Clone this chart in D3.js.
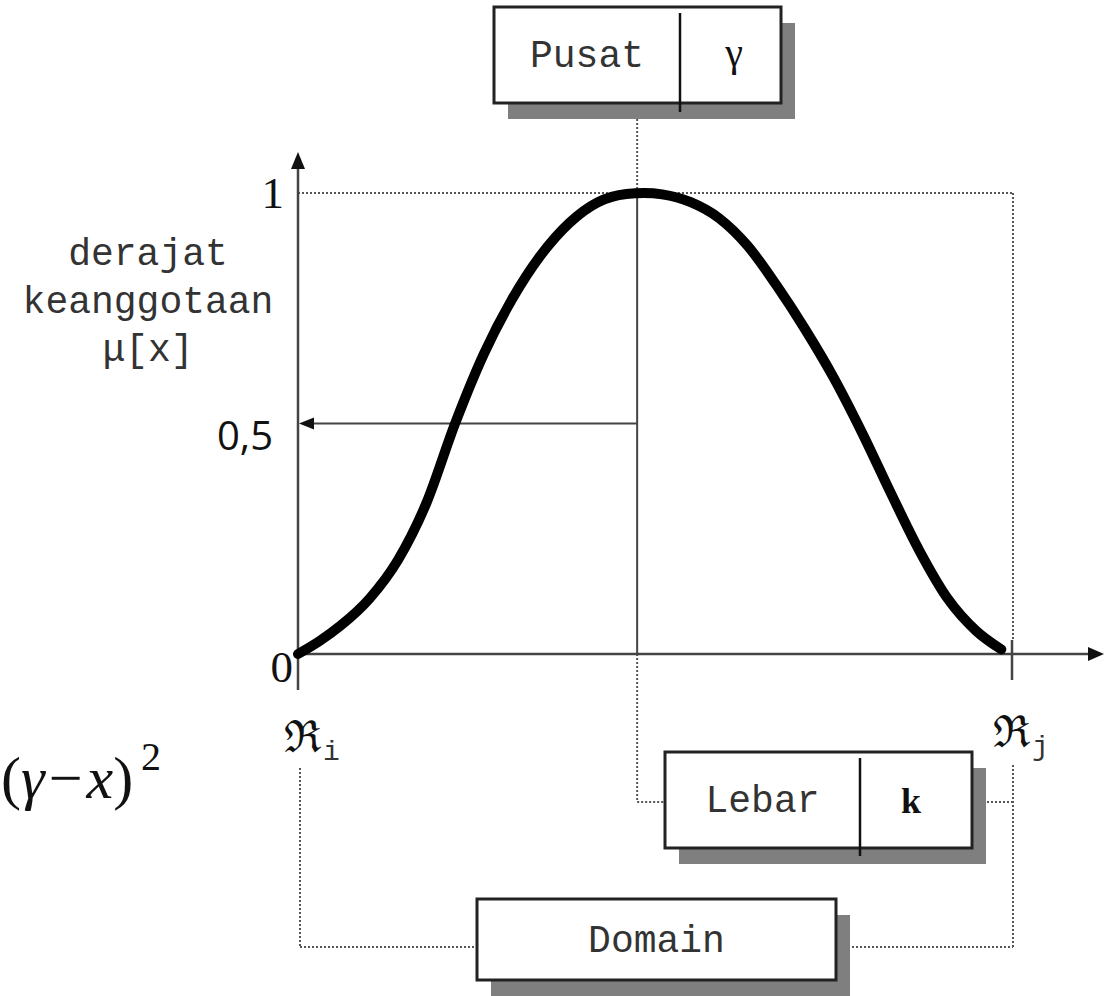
<!DOCTYPE html>
<html>
<head>
<meta charset="utf-8">
<script src="https://cdn.jsdelivr.net/npm/d3@7"></script>
<style>
  body { margin: 0; background: #fff; }
  .mono { font-family: "Liberation Mono", "Courier New", monospace; fill: #333; }
  .serif { font-family: "Liberation Serif", "Times New Roman", serif; fill: #111; }
</style>
</head>
<body>
<div id="chart"></div>
<script>
// membership curve (domain units 0..100 between Ri and Rj)
const curveX  = [0, 3, 6, 10, 14, 18, 22, 26, 30, 34, 38, 42, 46, 48.5, 51, 55, 59, 63, 67, 71, 75, 79, 83, 87, 91, 95, 98.5];
const curveMu = [0, 0.028, 0.062, 0.12, 0.204, 0.328, 0.5, 0.65, 0.77, 0.865, 0.935, 0.98, 0.998, 1.0, 0.997, 0.98, 0.945, 0.885, 0.8, 0.705, 0.6, 0.48, 0.35, 0.225, 0.12, 0.05, 0.01];

const centerValue = 47.5;   // gamma
const halfValue = 0.5;
const yTickValues = [0, 0.5, 1];
const yTickLabels = ["0", "0,5", "1"];
const yAxisTitle = ["derajat", "keanggotaan", "\u03bc[x]"];
const boxPusat = ["Pusat", "\u03b3"];
const boxLebar = ["Lebar", "k"];
const boxDomain = ["Domain"];

const W = 1110, H = 996;
const svg = d3.select("#chart").append("svg")
    .attr("width", W).attr("height", H);

const x = d3.scaleLinear().domain([0, 100]).range([298, 1012]);
const y = d3.scaleLinear().domain([0, 1]).range([654, 193]);

const axisColor = "#444";
const dotColor = "#555";

function dotted(x1, y1, x2, y2) {
    svg.append("line")
        .attr("x1", x1).attr("y1", y1).attr("x2", x2).attr("y2", y2)
        .attr("stroke", dotColor).attr("stroke-width", 2)
        .attr("stroke-dasharray", "2,2");
}
function solid(x1, y1, x2, y2, w) {
    svg.append("line")
        .attr("x1", x1).attr("y1", y1).attr("x2", x2).attr("y2", y2)
        .attr("stroke", axisColor).attr("stroke-width", w || 2.5);
}
function arrow(points) {
    svg.append("path")
        .attr("d", "M" + points.map(p => p.join(",")).join("L") + "Z")
        .attr("fill", "#111");
}

let x0 = x(0), xEnd = x(100), xc = x(centerValue);
let yTop = y(1), yBase = y(0);

// guide lines (dotted)
dotted(x0, yTop, xEnd + 1, yTop);
dotted(xEnd + 1, yTop, xEnd + 1, 640);
dotted(xEnd + 1, 765, xEnd + 1, 947);
dotted(xc, 103, xc, yTop);
dotted(xc, yBase, xc, 802);
dotted(xc, 802, 665, 802);
dotted(983, 802, xEnd + 1, 802);
dotted(x0 + 2, 768, x0 + 2, 947);
dotted(x0 + 2, 947, 477, 947);
dotted(848, 947, xEnd + 1, 947);

// axes
solid(x0, 690, x0, 166);
arrow([[x0, 152], [x0 - 7, 169], [x0 + 7, 169]]);
solid(x0, yBase, 1092, yBase);
arrow([[1104, yBase], [1088, yBase - 7], [1088, yBase + 7]]);
solid(xEnd, 640, xEnd, 680);

// center line and arrow at 0.5
solid(xc, yTop, xc, yBase, 2);
solid(xc, y(halfValue), x0 + 14, y(halfValue), 2);
arrow([[x0 + 1, y(halfValue)], [x0 + 16, y(halfValue) - 6], [x0 + 16, y(halfValue) + 6]]);

// membership curve
const line = d3.line()
    .x(d => x(d[0]))
    .y(d => y(d[1]))
    .curve(d3.curveMonotoneX);
svg.append("path")
    .datum(curveX.map((v, i) => [v, curveMu[i]]))
    .attr("d", line)
    .attr("fill", "none")
    .attr("stroke", "#000")
    .attr("stroke-width", 10)
    .attr("stroke-linecap", "round")
    .attr("stroke-linejoin", "round");

// y tick labels
yTickValues.forEach((v, i) => {
    let t = svg.append("text")
        .attr("text-anchor", "end")
        .text(yTickLabels[i]);
    if (i === 1) {
        t.attr("x", 273).attr("y", y(v) + 26)
            .attr("font-family", "'Open Sans', 'Noto Sans', sans-serif")
            .attr("font-size", 40).attr("fill", "#111");
    } else {
        t.attr("class", "serif")
            .attr("x", i === 0 ? 293 : 284)
            .attr("y", i === 0 ? y(v) + 28 : y(v) + 15)
            .attr("font-size", 45);
    }
});

// y axis title
yAxisTitle.forEach((s, i) => {
    svg.append("text").attr("class", "mono")
        .attr("x", 148).attr("y", 265 + i * 48)
        .attr("text-anchor", "middle")
        .attr("font-size", 38)
        .text(s);
});

// Ri, Rj
function realLabel(px, py, sub) {
    let t = svg.append("text").attr("x", px).attr("y", py);
    t.append("tspan").attr("class", "serif").attr("font-size", 44).text("\u211c");
    t.append("tspan").attr("class", "mono").attr("font-size", 28)
        .attr("dx", 2).attr("dy", 8).text(sub);
}
realLabel(284, 752, "i");
realLabel(993, 747, "j");

// boxes with shadow
function box(bx, by, bw, bh, labels, divX, divBottom) {
    svg.append("rect")
        .attr("x", bx + 14).attr("y", by + 16)
        .attr("width", bw).attr("height", bh)
        .attr("fill", "#7f7f7f");
    svg.append("rect")
        .attr("x", bx).attr("y", by)
        .attr("width", bw).attr("height", bh)
        .attr("fill", "#fff").attr("stroke", "#222").attr("stroke-width", 3);
    if (divX) {
        svg.append("line")
            .attr("x1", divX).attr("x2", divX)
            .attr("y1", by + 6).attr("y2", divBottom)
            .attr("stroke", "#111").attr("stroke-width", 2.5);
    }
    let left = divX ? [bx, divX] : [bx, bx + bw];
    svg.append("text").attr("class", "mono")
        .attr("x", (left[0] + left[1]) / 2)
        .attr("y", by + bh / 2 + 12)
        .attr("text-anchor", "middle")
        .attr("font-size", 38)
        .text(labels[0]);
    return left;
}
box(494, 7, 287, 96, boxPusat, 680, 112);
svg.append("text").attr("class", "serif")
    .attr("x", 734).attr("y", 66).attr("text-anchor", "middle")
    .attr("font-size", 40).text(boxPusat[1]);

box(665, 752, 307, 96, boxLebar, 860, 856);
svg.append("text").attr("class", "serif")
    .attr("x", 911).attr("y", 813).attr("text-anchor", "middle")
    .attr("font-size", 36).attr("font-weight", "bold").text(boxLebar[1]);

box(477, 899, 359, 81, boxDomain);

// formula fragment at left edge
let f = svg.append("text").attr("class", "serif")
    .attr("x", 1).attr("y", 798).attr("font-size", 60);
f.append("tspan").text("(");
f.append("tspan").attr("font-style", "italic").text("\u03b3");
f.append("tspan").attr("dx", 4).text("\u2212");
f.append("tspan").attr("dx", 4).attr("font-style", "italic").text("x");
f.append("tspan").text(")");
f.append("tspan").attr("font-size", 40).attr("dy", -28).attr("dx", 8).text("2");
</script>
</body>
</html>
